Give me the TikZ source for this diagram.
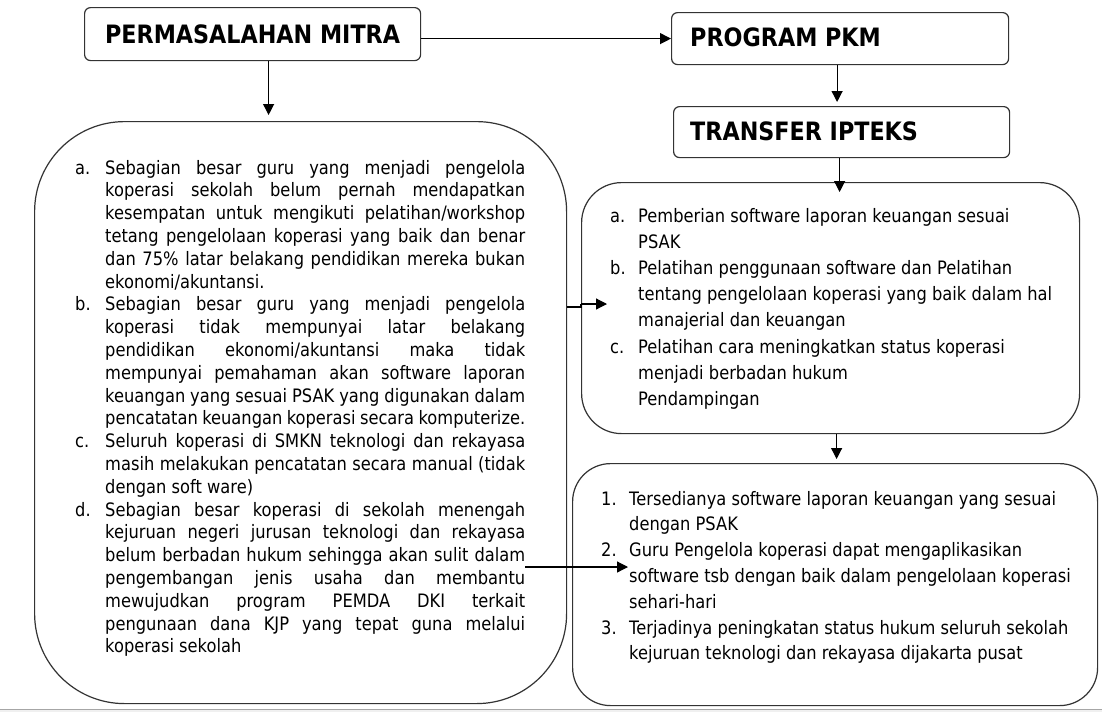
\documentclass[tikz,border=0pt]{standalone}
\usepackage{fontspec}
\setmainfont{DejaVu Sans}[FakeStretch=0.88]
\usetikzlibrary{arrows.meta}
\newlength\lw
\newlength\labw
\newcommand\JL[2]{\makebox[\labw][l]{#1}\makebox[\lw][s]{#2}\par}
\newcommand\JS[1]{\hspace*{\labw}\makebox[\lw][s]{#1}\par}
\newcommand\JE[1]{\hspace*{\labw}#1\par}
\newcommand\RL[2]{\makebox[\labw][l]{#1}#2\par}
\begin{document}
\begin{tikzpicture}[x=1pt,y=-1pt,
  box/.style={draw=black!80, line width=1.2pt, inner sep=0pt, anchor=north west},
  arr/.style={-{Triangle[length=11pt,width=11pt]}, line width=1.2pt, draw=black},
  plain/.style={line width=1.2pt, draw=black},
  ttl/.style={font=\fontsize{25.3}{29}\selectfont\bfseries, inner sep=0pt},
  txt/.style={inner sep=0pt, anchor=base west}]
\useasboundingbox[fill=white] (0,0) rectangle (1102,712);
\fill[black!6] (0,709) rectangle (1102,712);
\draw[black!35, line width=1pt] (0,709) -- (1102,709);

% boxes
\node[box, rounded corners=6pt, minimum width=336pt, minimum height=53pt] (P) at (84,7) {};
\node[ttl] (Pt) at (P.center) {PERMASALAHAN MITRA};
\node[box, rounded corners=6pt, minimum width=337pt, minimum height=52pt] (G) at (671,12) {};
\node[ttl, anchor=west] (Gt) at (690,37) {PROGRAM PKM};
\node[box, rounded corners=6pt, minimum width=336pt, minimum height=51pt] (T) at (673,106) {};
\node[ttl, anchor=west] (Tt) at (690,131) {TRANSFER IPTEKS};
\node[box, rounded corners=90pt, minimum width=532pt, minimum height=582pt] (L) at (34,121) {};
\node[box, rounded corners=40pt, minimum width=498pt, minimum height=251pt] (B1) at (581,182) {};
\node[box, rounded corners=38pt, minimum width=525pt, minimum height=242pt] (B2) at (572,463) {};

% left list
\node[txt] (Lt) at (75,174) {\begin{minipage}[t]{450pt}\fontsize{18.5}{22.8}\selectfont
\setlength\lw{420pt}\setlength\labw{30pt}\parindent=0pt\parskip=0pt
\JL{a.}{Sebagian besar guru yang menjadi pengelola}
\JS{koperasi sekolah belum pernah mendapatkan}
\JS{kesempatan untuk mengikuti pelatihan/workshop}
\JS{tetang pengelolaan koperasi yang baik dan benar}
\JS{dan 75\% latar belakang pendidikan mereka bukan}
\JE{ekonomi/akuntansi.}
\JL{b.}{Sebagian besar guru yang menjadi pengelola}
\JS{koperasi tidak mempunyai latar belakang}
\JS{pendidikan ekonomi/akuntansi maka tidak}
\JS{mempunyai pemahaman akan software laporan}
\JS{keuangan yang sesuai PSAK yang digunakan dalam}
\JS{pencatatan keuangan koperasi secara komputerize.}
\JL{c.}{Seluruh koperasi di SMKN teknologi dan rekayasa}
\JS{masih melakukan pencatatan secara manual (tidak}
\JE{dengan soft ware)}
\JL{d.}{Sebagian besar koperasi di sekolah menengah}
\JS{kejuruan negeri jurusan teknologi dan rekayasa}
\JS{belum berbadan hukum sehingga akan sulit dalam}
\JS{pengembangan jenis usaha dan membantu}
\JS{mewujudkan program PEMDA DKI terkait}
\JS{pengunaan dana KJP yang tepat guna melalui}
\JE{koperasi sekolah}
\end{minipage}};

% right list 1
\node[txt] (B1t) at (610,222) {\begin{minipage}[t]{460pt}\fontsize{18.5}{26.2}\selectfont
\setlength\labw{28pt}\parindent=0pt\parskip=0pt
\RL{a.}{Pemberian software laporan keuangan sesuai}
\JE{PSAK}
\RL{b.}{Pelatihan penggunaan software dan Pelatihan}
\JE{tentang pengelolaan koperasi yang baik dalam hal}
\JE{manajerial dan keuangan}
\RL{c.}{Pelatihan cara meningkatkan status koperasi}
\JE{menjadi berbadan hukum}
\JE{Pendampingan}
\end{minipage}};

% right list 2
\node[txt] (B2t) at (601,505) {\begin{minipage}[t]{480pt}\fontsize{18.5}{25.8}\selectfont
\setlength\labw{28pt}\parindent=0pt\parskip=0pt
\RL{1.}{Tersedianya software laporan keuangan yang sesuai}
\JE{dengan PSAK}
\RL{2.}{Guru Pengelola koperasi dapat mengaplikasikan}
\JE{software tsb dengan baik dalam pengelolaan koperasi}
\JE{sehari-hari}
\RL{3.}{Terjadinya peningkatan status hukum seluruh sekolah}
\JE{kejuruan teknologi dan rekayasa dijakarta pusat}
\end{minipage}};

% connectors
\coordinate (h1) at (0,307);
\coordinate (t1) at (607,304);
\coordinate (t2) at (628,567);
\draw[arr] (P.east |- G.west) -- (G.west);
\draw[arr, shorten >=6pt] ([xshift=16pt]P.south) -- ([xshift=16pt]P.south |- L.north);
\draw[arr, shorten >=4pt] ([xshift=-3pt]G.south) -- ([xshift=-3pt]G.south |- T.north);
\draw[arr, shorten >=-10pt] ([xshift=-2pt]T.south) -- ([xshift=-2pt]T.south |- B1.north);
\draw[arr, shorten >=4pt] ([xshift=6pt]B1.south) -- ([xshift=6pt]B1.south |- B2.north);
\draw[plain] (L.east |- h1) -- (B1.west |- h1) -- (B1.west |- t1);
\draw[arr] (B1.west |- t1) -- (t1);
\draw[arr] (Lt.east |- t2) -- (t2);
\end{tikzpicture}
\end{document}
